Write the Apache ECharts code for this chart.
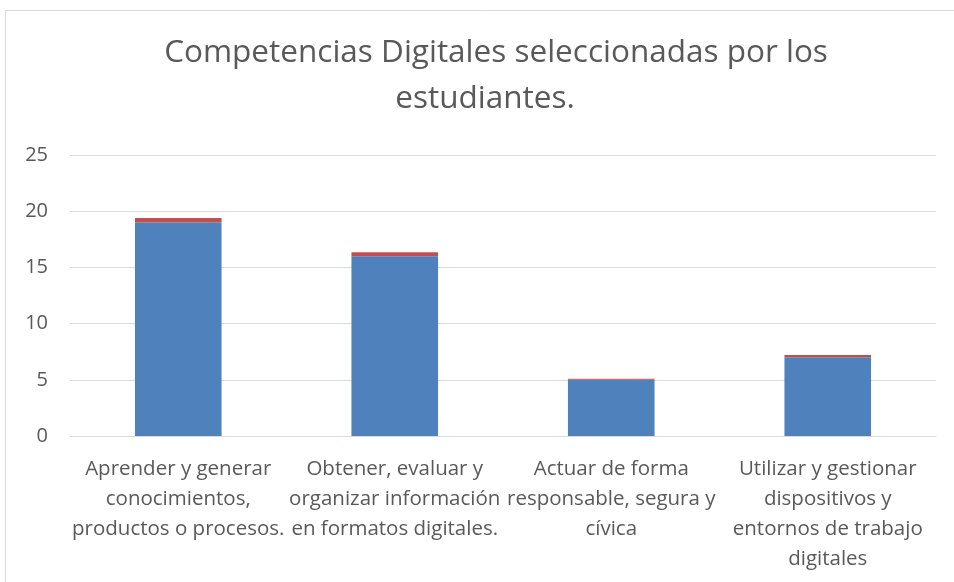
<!DOCTYPE html>
<html>
<head>
<meta charset="utf-8">
<script src="https://cdn.jsdelivr.net/npm/echarts@6/dist/echarts.min.js"></script>
<style>
  html, body { margin: 0; padding: 0; background: #fff; }
  #chart { width: 954px; height: 582px; }
</style>
</head>
<body>
<div id="chart"></div>
<script>
// datos del gráfico
const categorias = [
  'Aprender y generar\nconocimientos,\nproductos o procesos.',
  'Obtener, evaluar y\norganizar información\nen formatos digitales.',
  'Actuar de forma\nresponsable, segura y\ncívica',
  'Utilizar y gestionar\ndispositivos y\nentornos de trabajo\ndigitales'
]
const serieAzul = [19, 16, 5, 7]
const serieRoja = [0.4, 0.35, 0.1, 0.2]
const ticksY = [0, 5, 10, 15, 20, 25]

const fuente = '"Open Sans", "Noto Sans", sans-serif'
const estiloTitulo = {
  fontFamily: fuente,
  fontSize: 31.5,
  fontWeight: 'normal',
  color: '#595959'
}
const myChart = echarts.init(document.getElementById('chart'))
const option = {
  animation: false,
  // el título en dos líneas, cada una con su propio centrado
  title: [
    {
      text: 'Competencias Digitales seleccionadas por los',
      left: 496,
      textAlign: 'center',
      top: 37,
      padding: 0,
      textStyle: estiloTitulo
    },
    {
      text: 'estudiantes.',
      left: 485,
      textAlign: 'center',
      top: 83,
      padding: 0,
      textStyle: estiloTitulo
    }
  ],
  graphic: [
    {
      type: 'rect',
      shape: { x: 5.5, y: 10.5, width: 1000, height: 1000 },
      style: { fill: 'none', stroke: '#d9d9d9', lineWidth: 1 },
      silent: true
    }
  ],
  grid: { left: 70, right: 18, top: 155, bottom: 146 },
  xAxis: {
    type: 'category',
    data: categorias,
    axisTick: { show: false },
    axisLine: { lineStyle: { color: '#d9d9d9' } },
    axisLabel: {
      interval: 0,
      margin: 18,
      fontFamily: fuente,
      fontSize: 20.5,
      lineHeight: 30,
      color: '#595959'
    }
  },
  yAxis: {
    type: 'value',
    min: ticksY[0],
    max: ticksY[ticksY.length - 1],
    interval: 5,
    axisLine: { show: false },
    axisTick: { show: false },
    splitLine: { lineStyle: { color: '#d9d9d9' } },
    axisLabel: {
      margin: 22,
      align: 'right',
      fontFamily: fuente,
      fontSize: 20,
      color: '#595959'
    }
  },
  series: [
    {
      type: 'bar',
      stack: 'total',
      barWidth: '40%',
      data: serieAzul,
      itemStyle: { color: '#4f81bd' }
    },
    {
      type: 'bar',
      stack: 'total',
      data: serieRoja,
      itemStyle: { color: '#c0504d' }
    }
  ]
}

option && myChart.setOption(option)
window.addEventListener('resize', () => {
  myChart.resize()
})
</script>
</body>
</html>
